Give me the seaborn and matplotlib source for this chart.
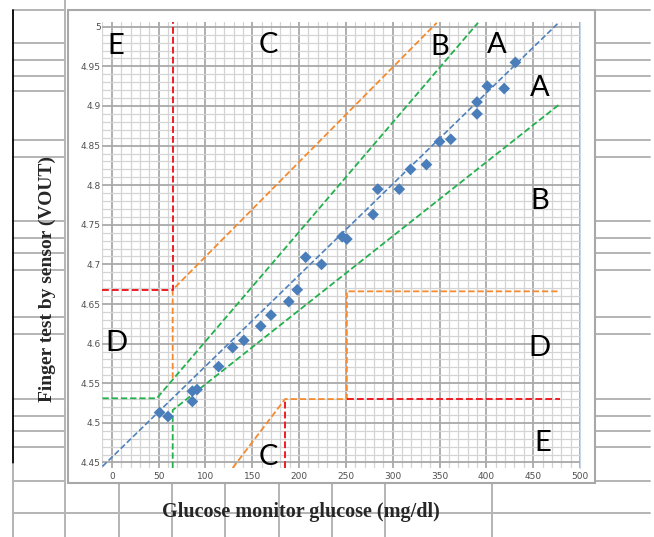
import matplotlib
matplotlib.use("Agg")
import matplotlib.pyplot as plt
from matplotlib.lines import Line2D
from matplotlib.patches import Rectangle
from matplotlib.ticker import MultipleLocator
import pandas as pd
import seaborn as sns

# measured points
glucose = [51, 60, 86, 91, 86, 114, 129, 141, 159, 170, 189, 198, 207, 224,
           246, 251, 279, 284, 307, 319, 336, 350, 362, 390, 390, 401, 419, 431]
vout = [4.513, 4.508, 4.540, 4.542, 4.527, 4.571, 4.595, 4.604, 4.622, 4.636,
        4.653, 4.668, 4.709, 4.700, 4.735, 4.732, 4.763, 4.795, 4.795, 4.820,
        4.826, 4.855, 4.858, 4.890, 4.905, 4.925, 4.922, 4.955]

# zone boundaries
ident_x, ident_y = [-10, 477], [4.445, 5.005]
green_up_x, green_up_y = [-10, 48, 391], [4.531, 4.531, 5.005]
green_lo_x, green_lo_y = [65, 65, 479], [4.443, 4.516, 4.903]
orange_up_x, orange_up_y = [65, 65, 347], [4.556, 4.668, 5.005]
red_up_x, red_up_y = [-10, 65, 65], [4.668, 4.668, 5.006]
orange_lo_x, orange_lo_y = [129, 185, 251, 251, 479], [4.443, 4.530, 4.530, 4.666, 4.666]
red_lo1_x, red_lo1_y = [185, 185], [4.443, 4.530]
red_lo2_x, red_lo2_y = [251, 479], [4.530, 4.530]

zone_labels = ["E", "C", "B", "A", "A", "B", "D", "D", "C", "E"]
zone_x = [4, 167, 350, 411, 457, 457, 5, 457, 167, 460]
zone_y = [4.976, 4.977, 4.975, 4.977, 4.923, 4.780, 4.601, 4.595, 4.457, 4.475]

x_ticks = list(range(0, 501, 50))
y_ticks = [4.45, 4.5, 4.55, 4.6, 4.65, 4.7, 4.75, 4.8, 4.85, 4.9, 4.95, 5]
y_tick_labels = ["4.45", "4.5", "4.55", "4.6", "4.65", "4.7", "4.75", "4.8",
                 "4.85", "4.9", "4.95", "5"]

sns.set_style("white")
W, H = 654, 537
fig = plt.figure(figsize=(W / 100, H / 100), dpi=100)


def fx(p):
    return p / W


def fy(p):
    return 1 - p / H


def cell_line(x0, y0, x1, y1, color="#b4b4b4", lw=1.4):
    fig.add_artist(Line2D([fx(x0), fx(x1)], [fy(y0), fy(y1)],
                          transform=fig.transFigure, color=color, lw=lw, zorder=0))


# spreadsheet cells behind the chart
rows = [10, 43, 60, 76, 91, 140, 157, 221, 238, 253, 270, 317, 334, 399, 416,
        431, 447, 481]
for r in rows:
    cell_line(13, r, 65, r)
    cell_line(595, r, 650, r)
cell_line(13, 513, 650, 513)
for c in [65, 119, 172, 225, 279, 332, 385, 492]:
    cell_line(c, 0 if c == 65 else 481, c, 537)
cell_line(13, 10, 13, 464, color="black", lw=1.3)
cell_line(13, 464, 13, 537)

# chart frame
fig.add_artist(Rectangle((fx(68), fy(483)), fx(595) - fx(68), fy(10) - fy(483),
                         transform=fig.transFigure, facecolor="white",
                         edgecolor="#a8a8a8", lw=1.5, zorder=1))

ax = fig.add_axes([fx(102), fy(468), fx(580) - fx(102), fy(22) - fy(468)])
ax.set_zorder(2)
ax.set_xlim(-10.5, 500)
ax.set_ylim(4.443, 5.006)

ax.xaxis.set_minor_locator(MultipleLocator(10))
ax.yaxis.set_minor_locator(MultipleLocator(0.01))
ax.set_xticks(x_ticks)
ax.set_yticks(y_ticks)
ax.set_yticklabels(y_tick_labels)
ax.grid(which="major", color="#a9a9a9", lw=1.3)
ax.grid(which="minor", color="#d4d4d4", lw=0.9)
ax.set_axisbelow(True)
ax.tick_params(which="both", length=0, labelsize=6.5, labelcolor="#505050")
ax.tick_params(axis="x", pad=3)
ax.tick_params(axis="y", pad=1)
for s in ax.spines.values():
    s.set_visible(False)
ax.spines["right"].set_visible(True)
ax.spines["right"].set_color("#c9d6e8")

dash = (0, (3.5, 1.6))
ax.plot(ident_x, ident_y, color="#4f81bd", lw=1.2, ls=dash)
ax.plot(green_up_x, green_up_y, color="#22b14c", lw=1.3, ls=dash)
ax.plot(green_lo_x, green_lo_y, color="#22b14c", lw=1.3, ls=dash)
ax.plot(orange_up_x, orange_up_y, color="#f58a2e", lw=1.3, ls=dash)
ax.plot(orange_lo_x, orange_lo_y, color="#f58a2e", lw=1.3, ls=dash)
ax.plot(red_up_x, red_up_y, color="#ee1c24", lw=1.4, ls=dash)
ax.plot(red_lo1_x, red_lo1_y, color="#ee1c24", lw=1.4, ls=dash)
ax.plot(red_lo2_x, red_lo2_y, color="#ee1c24", lw=1.4, ls=dash)

pts = pd.DataFrame({"glucose": glucose, "vout": vout})
sns.scatterplot(data=pts, x="glucose", y="vout", marker="D", s=36,
                color="#4a7ebb", edgecolor="none", ax=ax, zorder=5)
ax.set_xlabel("")
ax.set_ylabel("")

for lab, x, y in zip(zone_labels, zone_x, zone_y):
    ax.text(x, y, lab, fontsize=21, family="Lato", ha="center", va="center",
            color="black", zorder=6)

fig.text(fx(301), fy(512), "Glucose monitor glucose (mg/dl)", family="Liberation Serif",
         fontweight="bold", fontsize=14.5, ha="center", va="center", zorder=3)
fig.text(fx(47), fy(279), "Finger test by sensor (VOUT)", family="Liberation Serif",
         fontweight="bold", fontsize=14, rotation=90, ha="center", va="center", zorder=3)

fig.savefig("out.png", dpi=100)
